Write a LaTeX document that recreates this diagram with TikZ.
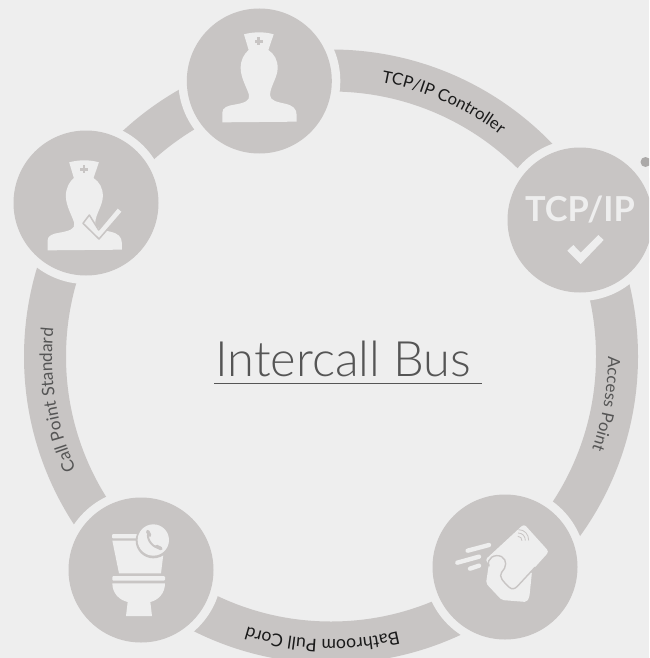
\documentclass[tikz,border=0pt]{standalone}
\usepackage{fontspec}
\usetikzlibrary{decorations.text}
\setmainfont{Lato}
\newfontfamily\titlefont{Lato Light}
\newfontfamily\tcpfont{Lato Bold}
\definecolor{bg}{HTML}{EEEEEE}
\definecolor{disc}{HTML}{C8C5C4}
\definecolor{labdark}{HTML}{555555}
\definecolor{labblack}{HTML}{1A1A1A}
\definecolor{dotc}{HTML}{ABA9A8}
\tikzset{
  halo/.style={fill=bg,draw=none},
  discfill/.style={fill=disc,draw=none},
  glyph/.style={fill=bg,draw=none},
  mark line/.style={draw=disc,line cap=round,line join=round},
  zoomed/.style={shift={#1},x=0.33333pt,y=-0.33333pt},
}
\newcommand{\nurseicon}{%
  \fill[glyph] (222,103) .. controls (250,95) and (285,95) .. (311,103)
    -- (295,150) .. controls (313,162) and (323,180) .. (323,204)
    .. controls (323,232) and (301,258) .. (300,285)
    .. controls (300,302) and (322,306) .. (345,311)
    .. controls (368,316) and (380,326) .. (380,345)
    -- (380,365) -- (157,367) -- (157,338)
    .. controls (157,323) and (172,317) .. (193,314)
    .. controls (222,309) and (241,303) .. (237,285)
    .. controls (232,265) and (212,235) .. (212,204)
    .. controls (212,180) and (222,162) .. (236,150) -- cycle;
  \fill[discfill] (262,112) rectangle (270,136);
  \fill[discfill] (254,120) rectangle (278,128);
}
\newcommand{\bandlabel}[6]{% start, end, radius, colour, text, size
  \begin{scope}[shift={(331,356.5)},y=1pt]
    \path[decorate,decoration={text along path,text align=left,
      text={|\fontsize{#6}{#6}\selectfont\color{#4}|#5}}]
      (#1:#3) arc[start angle=#1,end angle=#2,radius=#3];
  \end{scope}}
\begin{document}
\begin{tikzpicture}[x=1pt,y=-1pt]
\useasboundingbox (0,0) rectangle (649,658);
\clip (0,0) rectangle (649,658);
\fill[bg] (0,0) rectangle (649,658);
% ring
\fill[disc,even odd rule] (331,356.5) circle[radius=307] circle[radius=265];
% halos and discs
\foreach \cx/\cy in {259.3/81,86/203,580/220,141/570,505/567}{
  \fill[halo] (\cx,\cy) circle[radius=81];
  \fill[discfill] (\cx,\cy) circle[radius=72.5];
}
% small dot
\fill[dotc] (645.5,162) circle[radius=5];
% top nurse
\begin{scope}[zoomed={(170,0)}]
  \nurseicon
\end{scope}
% nurse with check
\begin{scope}[zoomed={(-4.8,128)}]
  \nurseicon
\end{scope}
\begin{scope}[zoomed={(0,130)}]
  \path[glyph,mark line,line width=1.5pt,fill=bg]
    (268,255) -- (249,280) -- (297,327) -- (368,245) -- (353,232) -- (296,300) -- cycle;
\end{scope}
% TCP/IP
\node[inner sep=0pt,anchor=base,text=bg,font=\tcpfont\fontsize{34.4}{34.4}\selectfont] (tcp) at (580,221.7) {TCP/IP};
\begin{scope}[zoomed={(490,130)}]
  \fill[glyph] (232,362) -- (250,345) -- (272,368) -- (325,315) -- (341,330) -- (272,402) -- cycle;
\end{scope}
% toilet
\begin{scope}[zoomed={(50,490)}]
  \fill[glyph,rounded corners=1pt] (186,132) rectangle (262,145);
  \fill[glyph] (187,152) -- (345,152) -- (333,250) -- (207,250) -- cycle;
  \fill[glyph,rounded corners=1pt] (187,258) rectangle (345,272);
  \fill[glyph] (187,280) -- (345,280) .. controls (345,310) and (325,330) .. (301,336)
     -- (306,378) -- (228,378) -- (233,336) .. controls (208,330) and (187,310) .. (187,280) -- cycle;
  \path[fill=disc] (310,152) circle[radius=53];
  \path[fill=bg] (310,150) circle[radius=47];
  \draw[disc,line width=2pt,line cap=round] (295,130) .. controls (288,148) and (312,178) .. (332,173);
  \draw[disc,line width=3.4pt,line cap=round] (293,124) -- (299,136);
  \draw[disc,line width=3.4pt,line cap=round] (320,169) -- (333,176);
\end{scope}
% card
\begin{scope}[zoomed={(420,480)}]
  \foreach \ax/\ay/\bx/\by in {143/212/207/195,112/248/177/230,150/266/177/257}{
    \draw[bg,line width=4.4pt,line cap=round] (\ax,\ay) -- (\bx,\by);
  }
  \fill[glyph,rounded corners=3pt] (312,132) -- (387,215) -- (285,328) -- (195,240) -- cycle;
  \fill[glyph,rounded corners=2pt] (207,250) -- (198,310) -- (245,360) -- (320,366) -- (328,352) -- (336,275) -- (280,320) -- cycle;
  \draw[disc,line width=1.4pt,line cap=round,line join=round]
    (207,258) .. controls (198,235) and (225,220) .. (245,230)
    .. controls (262,240) and (260,262) .. (245,277)
    .. controls (235,290) and (250,305) .. (268,322)
    .. controls (276,330) and (285,326) .. (292,319) -- (345,262);
  \foreach \r in {14,24,34}{
    \draw[disc,line width=0.8pt] ({292+0.1*\r},{183-\r}) .. controls ({292+0.65*\r},{183-\r}) and ({292+\r},{183-0.6*\r}) .. ({292+\r},{183-0.05*\r});
  }
\end{scope}
% band labels
\bandlabel{79.6}{40}{279}{labblack}{TCP/IP Controller}{16.6}
\bandlabel{0}{-40}{277}{labdark}{Access Point}{16.8}
\bandlabel{-76.3}{-130}{283}{labblack}{Bathroom Pull Cord}{17.6}
\bandlabel{203.9}{150}{279}{labdark}{Call Point Standard}{17.2}
% title
\node[inner sep=0pt,anchor=base west,text=labdark,font=\titlefont\fontsize{48.8}{50}\selectfont] (title) at (215,376.7) {Intercall Bus};
\coordinate (ul) at (214,383.2);
\coordinate (ur) at (481.5,383.2);
\draw[labdark,line width=1pt] (ul) -- (ur);
\end{tikzpicture}
\end{document}
